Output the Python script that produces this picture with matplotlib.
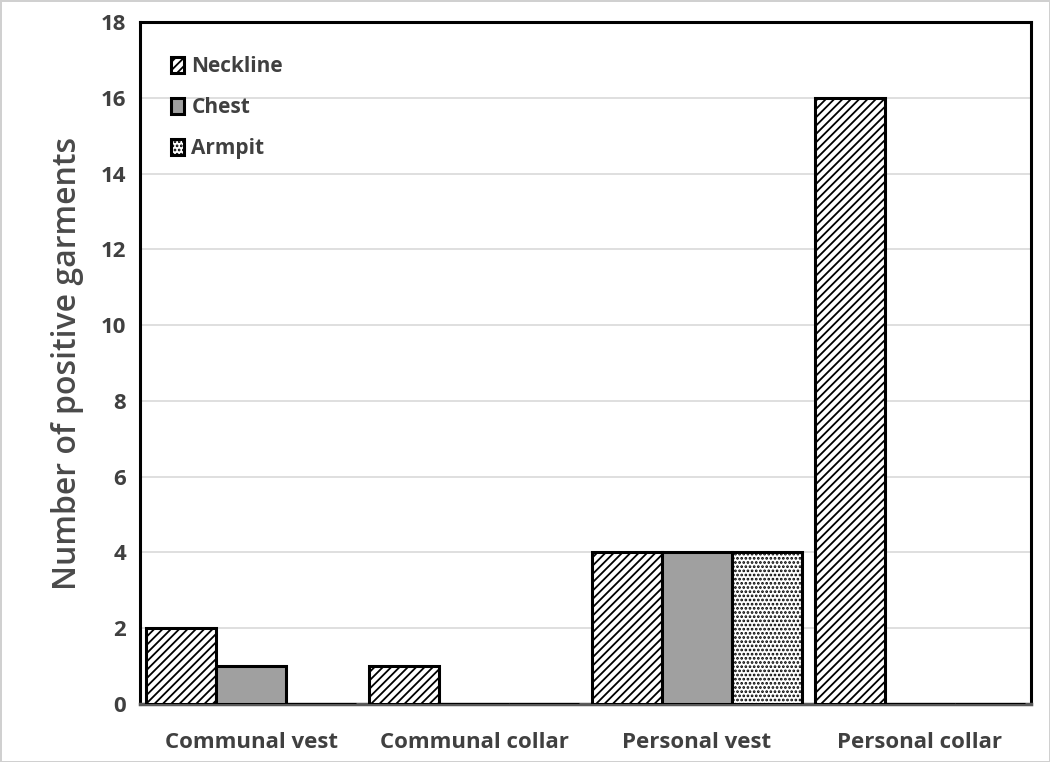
import numpy as np
import matplotlib.pyplot as plt

categories = ['Communal vest', 'Communal collar', 'Personal vest', 'Personal collar']
neckline = [2, 1, 4, 16]
chest = [1, 0, 4, 0]
armpit = [0, 0, 4, 0]

plt.rcParams['font.family'] = ['Open Sans', 'DejaVu Sans']
plt.rcParams['hatch.linewidth'] = 1.3

fig = plt.figure(figsize=(10.5, 7.62), dpi=100)
fig.patch.set_edgecolor('#d0d0d0')
fig.patch.set_linewidth(2)
ax = fig.add_axes([0.1333, 0.0761, 0.8487, 0.895])

x = np.arange(len(categories))
w = 0.314
ax.bar(x - w, neckline, w, facecolor='white', edgecolor='black', hatch='////', linewidth=2.2, label='Neckline', zorder=3)
ax.bar(x, chest, w, facecolor='#a0a0a0', edgecolor='black', linewidth=2.2, label='Chest', zorder=3)
ax.bar(x + w, armpit, w, facecolor='white', edgecolor='black', hatch='....', linewidth=2.2, label='Armpit', zorder=3)

ax.set_xlim(-0.5, 3.5)
ax.set_ylim(0, 18)
ax.set_yticks(range(0, 19, 2))
ax.set_xticks(x)
ax.set_xticklabels(categories)
ax.yaxis.grid(True, color='#d9d9d9', linewidth=1.2, zorder=0)
ax.set_axisbelow(True)
ax.tick_params(length=0, labelsize=16, colors='#404040', pad=10)
ax.tick_params(axis='x', pad=20)
for lbl in ax.get_xticklabels() + ax.get_yticklabels():
    lbl.set_fontweight('bold')

for s in ['left', 'top', 'right']:
    ax.spines[s].set_color('black')
    ax.spines[s].set_linewidth(2.2)
ax.spines['bottom'].set_color('#595959')
ax.spines['bottom'].set_linewidth(2.5)

ax.set_ylabel('Number of positive garments', fontsize=23, color='#4a4a4a',
              fontweight='semibold', labelpad=12)

leg = ax.legend(loc='upper left', frameon=False, fontsize=15, handlelength=0.65, handleheight=0.8,
                handletextpad=0.35, labelspacing=0.95, borderaxespad=0.0, bbox_to_anchor=(0.025, 0.962))
for t in leg.get_texts():
    t.set_fontweight('bold')
    t.set_color('#404040')

fig.savefig('out.png', dpi=100)
